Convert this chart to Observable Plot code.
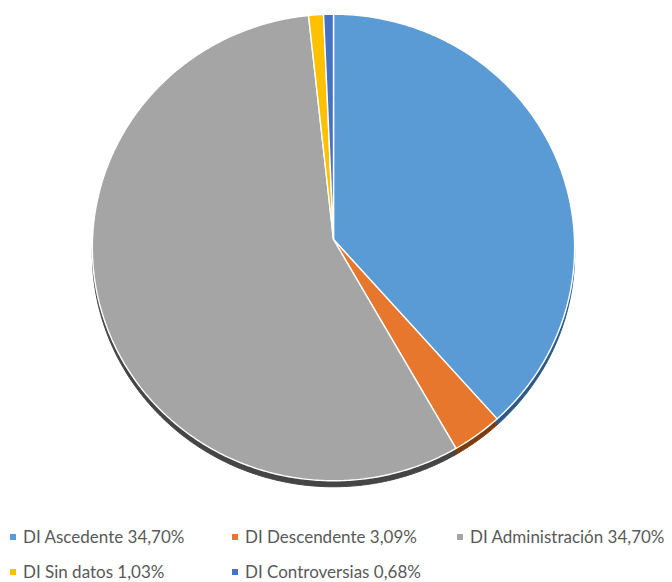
<!DOCTYPE html>
<html>
<head>
<meta charset="utf-8">
<script src="https://cdn.jsdelivr.net/npm/d3@7"></script>
<script src="https://cdn.jsdelivr.net/npm/@observablehq/plot@0.6"></script>
<style>
  html, body { margin: 0; padding: 0; background: #fff; }
  #chart { width: 672px; position: relative; }
  #legend { position: relative; height: 92px; font-family: Lato, "Liberation Sans", sans-serif; font-size: 17px; color: #595959; }
  .item { position: absolute; display: flex; align-items: center; white-space: nowrap; }
  .sw { width: 6px; height: 6px; margin-right: 7px; }
</style>
</head>
<body>
<div id="chart"></div>
<div id="legend"></div>
<script>
// Data (slice shares estimated from the drawn angles)
const categories = ["DI Ascedente", "DI Descendente", "DI Administración", "DI Sin datos", "DI Controversias"];
const values = [38.5, 3.3, 56.5, 1.03, 0.68];
const legendLabels = ["DI Ascedente 34,70%", "DI Descendente 3,09%", "DI Administración 34,70%", "DI Sin datos 1,03%", "DI Controversias 0,68%"];
const colors = ["#5B9BD5", "#E8772E", "#A5A5A5", "#FFC000", "#4472C4"];
const sideColors = ["#2c5a85", "#7a3d12", "#454545", "#8a6a00", "#243f73"];

const table = categories.map((c, i) => ({category: c, value: values[i]}));
const arcs = d3.pie().sort(null).value(d => d.value)(table);

// outline of each slice on a tilted disc seen in slight perspective (near side larger)
const persp = 0.0343;
const proj = (u, v) => ({x: u / (1 + persp * v), y: v / (1 + persp * v)});
const pts = [];
arcs.forEach(a => {
  const c = a.data.category;
  pts.push({category: c, ...proj(0, 0)});
  const n = Math.max(2, Math.ceil((a.endAngle - a.startAngle) / 0.01));
  for (let k = 0; k <= n; k++) {
    const t = a.startAngle + (a.endAngle - a.startAngle) * k / n;
    pts.push({category: c, ...proj(Math.sin(t), Math.cos(t))});
  }
});
const sidePts = pts.map(p => ({...p, category: p.category + " lado"}));

const W = 672, H = 490;
const plot = Plot.plot({
  width: W,
  height: H,
  marginLeft: 92,
  marginRight: 98,
  marginTop: 6,
  marginBottom: 18,
  x: {domain: [-1, 1], axis: null},
  y: {domain: [-1, 1], axis: null},
  color: {
    domain: [...categories, ...categories.map(c => c + " lado")],
    range: [...colors, ...sideColors]
  },
  marks: [
    Plot.line(sidePts, {x: "x", y: "y", z: "category", fill: "category", stroke: "category", strokeWidth: 1, curve: "linear-closed", dy: 6}),
    Plot.line(pts, {x: "x", y: "y", z: "category", fill: "category", stroke: "white", strokeWidth: 1.4, curve: "linear-closed"})
  ]
});
document.getElementById("chart").appendChild(plot);

// legend
const pos = [[10, 0], [232, 0], [457, 0], [10, 35], [232, 35]];
const leg = document.getElementById("legend");
legendLabels.forEach((lab, i) => {
  const it = document.createElement("div");
  it.className = "item";
  it.style.left = pos[i][0] + "px";
  it.style.top = (36 + pos[i][1]) + "px";
  const sw = document.createElement("span");
  sw.className = "sw";
  sw.style.background = colors[i];
  const tx = document.createElement("span");
  tx.textContent = lab;
  it.appendChild(sw);
  it.appendChild(tx);
  leg.appendChild(it);
});
</script>
</body>
</html>
